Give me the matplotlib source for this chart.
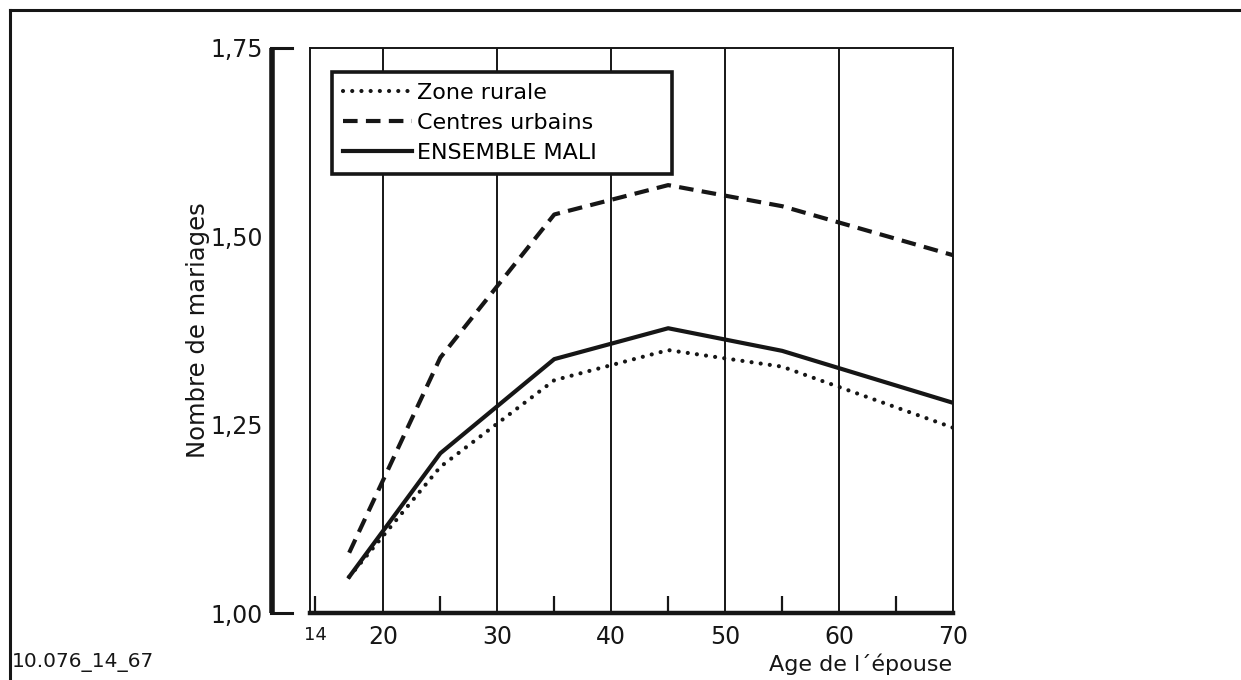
import matplotlib

matplotlib.use("Agg")
import matplotlib.pyplot as plt
from matplotlib.lines import Line2D
from matplotlib.transforms import blended_transform_factory

plt.rcParams["font.family"] = ["DejaVu Sans"]

# ages at which the curves are read (middle of each age group, last one = 70)
AGES = [17, 25, 35, 45, 55, 70]
RURAL = [1.048, 1.194, 1.309, 1.349, 1.327, 1.246]
URBAN = [1.080, 1.339, 1.529, 1.568, 1.540, 1.475]
MALI = [1.048, 1.212, 1.337, 1.378, 1.348, 1.279]

X_LABELS = [14, 20, 30, 40, 50, 60, 70]
X_GRID = [20, 30, 40, 50, 60, 70]
X_SHORT = [14, 25, 35, 45, 55, 65]
Y_TICKS = [1.00, 1.25, 1.50, 1.75]
Y_LABELS = ["1,00", "1,25", "1,50", "1,75"]

ink = "#161616"
W, H = 1241, 680
fig = plt.figure(figsize=(W / 100, H / 100), dpi=100)
ax = fig.add_axes([310 / W, (H - 613) / H, (953 - 310) / W, 565 / H])
ax.set_xlim(13.56, 70)
ax.set_ylim(1.0, 1.75)

for x in X_GRID:
    ax.axvline(x, color=ink, lw=1.4, zorder=1)

ax.plot(AGES, RURAL, color=ink, lw=3, linestyle=(0, (0.01, 2.2)),
        dash_capstyle="round", label="Zone rurale", zorder=3)
ax.plot(AGES, URBAN, color=ink, lw=3, linestyle=(0, (3.5, 2.0)),
        label="Centres urbains", zorder=3)
ax.plot(AGES, MALI, color=ink, lw=3, label="ENSEMBLE MALI", zorder=3)

# frame of the plotting area
for side in ["top", "left", "right"]:
    ax.spines[side].set_linewidth(1.4)
    ax.spines[side].set_color(ink)
ax.spines["bottom"].set_linewidth(3.2)
ax.spines["bottom"].set_color(ink)

ax.xaxis.remove_overlapping_locs = False
ax.set_xticks(X_LABELS, [str(v) for v in X_LABELS], fontsize=17)
ax.set_xticks(X_SHORT, minor=True)
ax.tick_params(axis="x", which="major", length=0, pad=9, colors=ink)
ax.tick_params(axis="x", which="minor", direction="in", length=12, width=1.6, colors=ink)
ax.get_xticklabels()[0].set_fontsize(13)

ax.set_yticks(Y_TICKS, Y_LABELS, fontsize=17)
ax.tick_params(axis="y", length=0, pad=34, colors=ink)

# detached thick y axis with bracket ends
tr = blended_transform_factory(ax.transAxes, ax.transData)
ax.plot([-0.059, -0.059], [1.0, 1.75], color=ink, lw=4, transform=tr, clip_on=False,
        solid_capstyle="butt")
ax.plot([-0.061, -0.028], [1.75, 1.75], color=ink, lw=2.2, transform=tr, clip_on=False)
ax.plot([-0.061, -0.028], [1.0, 1.0], color=ink, lw=2.2, transform=tr, clip_on=False)

leg = ax.legend(loc="upper left", bbox_to_anchor=(0.034, 0.775, 0.529, 0.1825),
                mode="expand", fontsize=16, handlelength=3.1, handletextpad=0.25,
                labelspacing=0.44, borderpad=0.5, fancybox=False, framealpha=1,
                borderaxespad=0)
leg.get_frame().set_edgecolor(ink)
leg.get_frame().set_linewidth(2.6)
leg.set_zorder(5)

fig.text(198 / W, 1 - 330 / H, "Nombre de mariages", rotation=90, ha="center",
         va="center", fontsize=17.5, color=ink)
fig.text(952 / W, 1 - 664 / H, "Age de l\u00b4\u00e9pouse", ha="right", va="center",
         fontsize=16, color=ink)
fig.text(12 / W, 1 - 663 / H, "10.076_14_67", ha="left", va="center", fontsize=14.5,
         color=ink)

# outer border of the scanned page
fig.add_artist(Line2D([10 / W, 1.0], [1 - 10 / H, 1 - 10 / H], color=ink, lw=2.2))
fig.add_artist(Line2D([10 / W, 10 / W], [0.0, 1 - 10 / H], color=ink, lw=2.2))

fig.savefig("out.png", dpi=100)
